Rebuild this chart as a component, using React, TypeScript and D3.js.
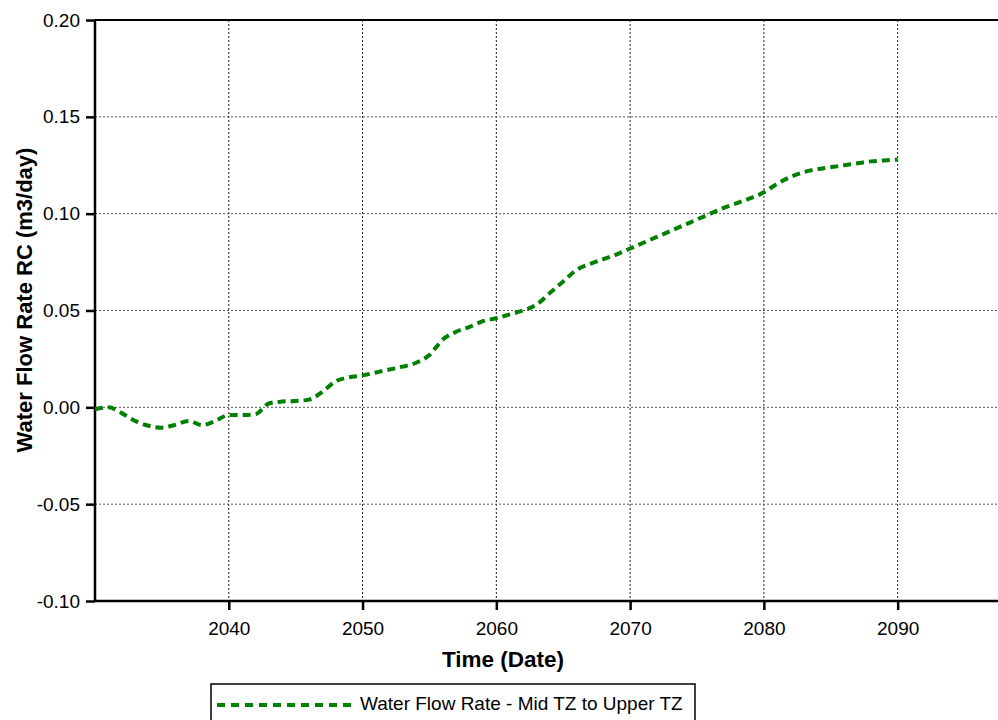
import React, { useEffect, useRef } from 'react'
import * as d3 from 'd3'

const years = [
  2030, 2031, 2032, 2033, 2034, 2035, 2036, 2037, 2038, 2039, 2040, 2041, 2042, 2043, 2044,
  2045, 2046, 2047, 2048, 2049, 2050, 2051, 2052, 2053, 2054, 2055, 2056, 2057, 2058, 2059,
  2060, 2061, 2062, 2063, 2064, 2065, 2066, 2067, 2068, 2069, 2070, 2071, 2072, 2073, 2074,
  2075, 2076, 2077, 2078, 2079, 2080, 2081, 2082, 2083, 2084, 2085, 2086, 2087, 2088, 2089,
  2090,
]
const flowRate = [
  -0.001, 0.0, -0.003, -0.007, -0.0095, -0.0105, -0.009, -0.007, -0.0092, -0.007, -0.004,
  -0.004, -0.0035, 0.002, 0.003, 0.0033, 0.004, 0.008, 0.0135, 0.0155, 0.0165, 0.018, 0.0195,
  0.021, 0.023, 0.027, 0.035, 0.039, 0.0415, 0.0445, 0.046, 0.048, 0.05, 0.053, 0.059, 0.065,
  0.071, 0.074, 0.0765, 0.079, 0.082, 0.085, 0.088, 0.091, 0.094, 0.097, 0.1, 0.103, 0.1055,
  0.108, 0.111, 0.1155, 0.119, 0.1215, 0.123, 0.124, 0.125, 0.126, 0.127, 0.1275, 0.128,
]
const xTicks = [2040, 2050, 2060, 2070, 2080, 2090]
const yTicks = [-0.1, -0.05, 0, 0.05, 0.1, 0.15, 0.2]
const seriesName = 'Water Flow Rate - Mid TZ to Upper TZ'

const App = () => {
  const svgRef = useRef<SVGSVGElement>(null)

  useEffect(() => {
    const width = 998
    const height = 720
    const left = 95,
      right = 998,
      top = 20,
      bottom = 601
    const font = 'Arial, "Liberation Sans", sans-serif'

    const svg = d3.select(svgRef.current)
    svg.selectAll('*').remove()
    svg.attr('width', width).attr('height', height)

    const x = d3.scaleLinear().domain([2030, 2097.5]).range([left, right])
    const y = d3.scaleLinear().domain([-0.1, 0.2]).range([bottom, top])

    // grid
    const grid = svg.append('g')
    grid
      .selectAll('line.v')
      .data(xTicks)
      .enter()
      .append('line')
      .attr('x1', (d) => x(d))
      .attr('x2', (d) => x(d))
      .attr('y1', top)
      .attr('y2', bottom)
      .attr('stroke', '#222')
      .attr('stroke-width', 1)
      .attr('stroke-dasharray', '2,2')
    grid
      .selectAll('line.h')
      .data(yTicks.filter((d) => d > -0.1 && d < 0.2))
      .enter()
      .append('line')
      .attr('x1', left)
      .attr('x2', right)
      .attr('y1', (d) => y(d))
      .attr('y2', (d) => y(d))
      .attr('stroke', '#555')
      .attr('stroke-width', 1)
      .attr('stroke-dasharray', '2,2')

    // top border
    svg.append('line')
      .attr('x1', left)
      .attr('x2', right)
      .attr('y1', top)
      .attr('y2', top)
      .attr('stroke', '#000')
      .attr('stroke-width', 2)

    const fmt = (d: number) => d3.format('.2f')(d).replace('−', '-')

    // axes
    const xAxis = svg
      .append('g')
      .attr('transform', `translate(0,${bottom})`)
      .call(d3.axisBottom(x).tickValues(xTicks).tickSize(9).tickPadding(12).tickFormat(d3.format('d')))
    xAxis.select('.domain').attr('stroke-width', 2.5).attr('d', `M${left},0H${right}`)
    xAxis.selectAll('.tick line').attr('stroke-width', 2.5)
    xAxis.selectAll('text').style('font-family', font).style('font-size', '19px').attr('fill', '#000')

    const yAxis = svg
      .append('g')
      .attr('transform', `translate(${left},0)`)
      .call(d3.axisLeft(y).tickValues(yTicks).tickSize(9).tickPadding(6).tickFormat(fmt as any))
    yAxis.select('.domain').attr('stroke-width', 2.5).attr('d', `M0,${top}V${bottom}`)
    yAxis.selectAll('.tick line').attr('stroke-width', 2.5)
    yAxis.selectAll('text').style('font-family', font).style('font-size', '19px').attr('fill', '#000')

    // series
    const pts = years.map((yr, i) => [yr, flowRate[i]] as [number, number])
    const line = d3
      .line<[number, number]>()
      .x((d) => x(d[0]))
      .y((d) => y(d[1]))
      .curve(d3.curveMonotoneX)
    svg.append('path')
      .datum(pts)
      .attr('d', line)
      .attr('fill', 'none')
      .attr('stroke', '#008000')
      .attr('stroke-width', 4)
      .attr('stroke-dasharray', '8,5')

    // axis titles
    svg.append('text')
      .attr('x', 503)
      .attr('y', 667)
      .attr('text-anchor', 'middle')
      .style('font-family', font)
      .style('font-size', '22.5px')
      .style('font-weight', 'bold')
      .text('Time (Date)')
    svg.append('text')
      .attr('transform', 'rotate(-90)')
      .attr('x', -300)
      .attr('y', 32)
      .attr('text-anchor', 'middle')
      .style('font-family', font)
      .style('font-size', '22px')
      .style('font-weight', 'bold')
      .text('Water Flow Rate RC (m3/day)')

    // legend
    const lg = svg.append('g')
    lg.append('rect')
      .attr('x', 211)
      .attr('y', 684)
      .attr('width', 484)
      .attr('height', 50)
      .attr('fill', '#fff')
      .attr('stroke', '#000')
      .attr('stroke-width', 1.5)
    lg.append('line')
      .attr('x1', 217)
      .attr('x2', 354)
      .attr('y1', 705)
      .attr('y2', 705)
      .attr('stroke', '#008000')
      .attr('stroke-width', 4)
      .attr('stroke-dasharray', '8,6')
    lg.append('text')
      .attr('x', 360)
      .attr('y', 710)
      .style('font-family', font)
      .style('font-size', '19px')
      .attr('fill', '#000')
      .text(seriesName)
  }, [])

  return (
    <div style={{ position: 'absolute', left: 0, top: 0, width: 998, height: 720, overflow: 'hidden', background: '#fff' }}>
      <svg ref={svgRef} style={{ display: 'block' }}></svg>
    </div>
  )
}

export default App
